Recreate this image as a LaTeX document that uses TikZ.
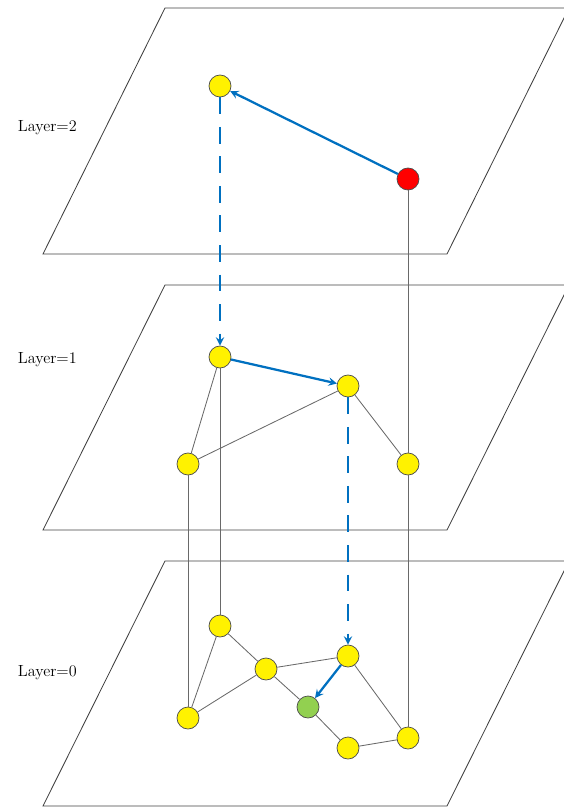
\documentclass[tikz,border=0pt]{standalone}
\usepackage{tikz}
\usetikzlibrary{positioning,arrows,calc}
\usepackage{xcolor}
\definecolor{arrowblue}{RGB}{0,112,192}
\definecolor{nodegreen}{RGB}{146,208,80}
\definecolor{edgegray}{RGB}{105,105,105}

\tikzset{
  vert/.style={circle, draw=black!70, fill=yellow, minimum size=0.55cm, inner sep=0pt, line width=0.5pt},
  plane/.style={draw=black!75, line width=0.6pt},
  edge/.style={draw=edgegray, line width=0.6pt},
  hop/.style={draw=arrowblue, line width=1.6pt, -stealth},
  drop/.style={draw=arrowblue, line width=1.6pt, -stealth, dash pattern=on 12pt off 9pt},
  layerlabel/.style={anchor=west, font=\fontsize{11.5}{13}\selectfont}
}

\begin{document}
\begin{tikzpicture}[x=0.025cm, y=-0.025cm]
\useasboundingbox (0,0) rectangle (564,807);

% Layer 2
\draw[plane] (43,254) -- (447,254) -- (569,8) -- (165,8) -- cycle;
\node[layerlabel] (lab2) at (13,128) {Layer=2};

% Layer 1
\draw[plane] (43,530) -- (447,530) -- (569,285) -- (165,285) -- cycle;
\node[layerlabel] (lab1) at (13,360) {Layer=1};

% Layer 0
\draw[plane] (43,806) -- (447,806) -- (569,561) -- (165,561) -- cycle;
\node[layerlabel] (lab0) at (13,673) {Layer=0};

% nodes on layer 2
\node[vert] (t2a) at (220,86) {};
\node[vert, fill=red] (t2b) at (408,179) {};

% nodes on layer 1
\node[vert] (m1a) at (220,357) {};
\node[vert] (m1b) at (348,386) {};
\node[vert] (m1c) at (188,464) {};
\node[vert] (m1d) at (408,464) {};

% nodes on layer 0
\node[vert] (b0e) at (220,626) {};
\node[vert] (b0f) at (266,669) {};
\node[vert] (b0g) at (348,656) {};
\node[vert] (b0h) at (188,718) {};
\node[vert, fill=nodegreen] (b0q) at (308,707) {};
\node[vert] (b0i) at (348,748) {};
\node[vert] (b0j) at (408,738) {};

% vertical links between layers
\draw[edge] (t2b) -- (m1d);
\draw[edge] (m1d) -- (b0j);
\draw[edge] (m1a) -- (b0e);
\draw[edge] (m1c) -- (b0h);

% edges inside layers
\draw[edge] (m1a) -- (m1c);
\draw[edge] (m1b) -- (m1c);
\draw[edge] (m1b) -- (m1d);

\draw[edge] (b0e) -- (b0f);
\draw[edge] (b0e) -- (b0h);
\draw[edge] (b0h) -- (b0f);
\draw[edge] (b0f) -- (b0g);
\draw[edge] (b0f) -- (b0q);
\draw[edge] (b0q) -- (b0i);
\draw[edge] (b0i) -- (b0j);
\draw[edge] (b0g) -- (b0j);

% search path
\draw[hop] (t2b) -- (t2a);
\draw[drop] (t2a) -- (m1a);
\draw[hop] (m1a) -- (m1b);
\draw[drop] (m1b) -- (b0g);
\draw[hop] (b0g) -- (b0q);
\end{tikzpicture}
\end{document}
